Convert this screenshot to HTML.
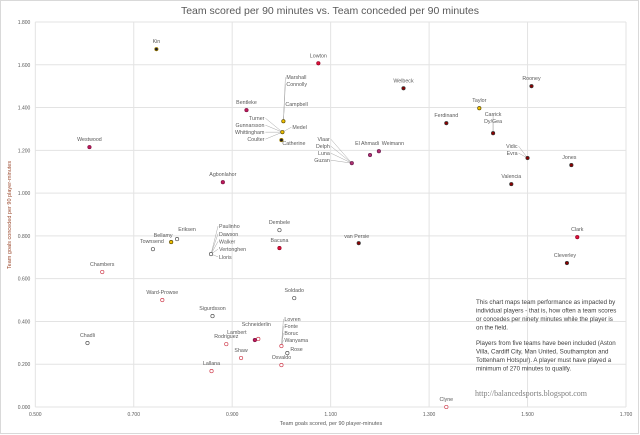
<!DOCTYPE html>
<html><head><meta charset="utf-8"><style>
html,body{margin:0;padding:0;background:#fff}
svg{display:block;font-family:"Liberation Sans",sans-serif}
</style></head><body>
<svg id="c" width="640" height="435" viewBox="0 0 640 435">
<rect x="0.5" y="0.5" width="638" height="433" fill="#fff" stroke="#d9d9d9"/>
<text x="330" y="14" font-size="10.5" fill="#595959" text-anchor="middle">Team scored per 90 minutes vs. Team conceded per 90 minutes</text>
<g id="grid"></g><g id="lines"></g><g id="pts"></g><g id="labs"></g>
<text transform="translate(11,215) rotate(-90)" font-size="5.5" fill="#9c4a2e" text-anchor="middle">Team goals conceded per 90 player-minutes</text>
<text x="331" y="425" font-size="5.5" fill="#595959" text-anchor="middle">Team goals scored, per 90 player-minutes</text>
<g font-size="6.2" fill="#404040">
<text x="476" y="304">This chart maps team performance as impacted by</text>
<text x="476" y="312.5">individual players - that is, how often a team scores</text>
<text x="476" y="321">or concedes per ninety minutes while the player is</text>
<text x="476" y="329.5">on the field.</text>
<text x="476" y="345">Players from five teams have been included (Aston</text>
<text x="476" y="353.5">Villa, Cardiff City, Man United, Southampton and</text>
<text x="476" y="362">Tottenham Hotspur).  A player must have played a</text>
<text x="476" y="370.5">minimum of 270 minutes to qualify.</text>
</g>
<text x="475" y="396" font-size="8" fill="#7f7f7f" font-family="Liberation Serif,serif">http://balancedsports.blogspot.com</text>
</svg>
<script>
var xTicks=[0.5,0.7,0.9,1.1,1.3,1.5,1.7];
var yTicks=[0,0.2,0.4,0.6,0.8,1.0,1.2,1.4,1.6,1.8];
var names=["Kin","Lowton","Marshall","Bentleke","Turner","Catherine","Westwood","Agbonlahor","Welbeck","Rooney","Taylor","Ferdinand","Carrick","Vidic","Jones","Valencia","Vlaar","El Ahmadi","Weimann","Eriksen","Bellamy","Townsend","Paulinho","Dembele","Bacuna","van Persie","Clark","Cleverley","Chambers","Ward-Prowse","Soldado","Sigurdsson","Schneiderlin","Lambert","Chadli","Rodriguez","Lovren","Rose","Shaw","Osvaldo","Lallana","Clyne"];
var xs=[0.746,1.075,1.004,0.929,1.002,1.0,0.61,0.881,1.248,1.508,1.402,1.335,1.43,1.5,1.589,1.467,1.143,1.18,1.198,0.788,0.776,0.739,0.857,0.996,0.996,1.157,1.601,1.58,0.636,0.758,1.026,0.86,0.953,0.946,0.606,0.888,1.0,1.012,0.918,1.0,0.858,1.335];
var ys=[1.673,1.607,1.336,1.388,1.285,1.248,1.215,1.051,1.49,1.5,1.397,1.327,1.28,1.164,1.131,1.042,1.14,1.178,1.196,0.785,0.771,0.738,0.715,0.827,0.743,0.766,0.794,0.673,0.631,0.5,0.509,0.425,0.318,0.313,0.299,0.294,0.285,0.252,0.229,0.196,0.168,0.0];
var teams=["K","R","C","V","C","K","V","V","M","M","C","M","M","M","M","M","P","P","P","T","C","T","T","T","R","M","R","M","S","S","T","T","S","V","T","S","S","T","S","S","S","S"];
var X0=35.3,X1=626,Y0=407,Y1=22;
function sx(v){return X0+(v-0.5)/1.2*(X1-X0);}
function sy(v){return Y0-v/1.8*(Y0-Y1);}
var NS="http://www.w3.org/2000/svg";
function mk(t,a,p){var e=document.createElementNS(NS,t);for(var k in a)e.setAttribute(k,a[k]);p.appendChild(e);return e;}
var G=document.getElementById('grid');
xTicks.forEach(function(v){
 var l=mk('line',{x1:sx(v),x2:sx(v),y1:Y1,y2:Y0,stroke:'#e3e3e3','stroke-width':1},G);
 
 
 var t=mk('text',{x:sx(v),y:Y0+9,'font-size':5,fill:'#595959','text-anchor':'middle'},G);t.textContent=v.toFixed(3);
 
 
});
yTicks.forEach(function(v){
 var l=mk('line',{x1:X0,x2:X1,y1:sy(v),y2:sy(v),stroke:'#e3e3e3','stroke-width':1},G);
 
 
 var t=mk('text',{x:X0-5,y:sy(v)+2,'font-size':5,fill:'#595959','text-anchor':'end'},G);t.textContent=v.toFixed(3);
 
 
});
var sty={C:['#f0c000','#5a4a00'],K:['#1a1a2a','#a08000'],R:['#e0103a','#900020'],V:['#c0185a','#7a1040'],P:['#b03070','#6a2050'],M:['#8b0000','#333'],T:['#fff','#555'],S:['#fff','#d04050']};
var P=document.getElementById('pts'),L=document.getElementById('labs'),LN=document.getElementById('lines');
var lay={"Kin":[0,-6,'middle'],"Lowton":[0,-6,'middle'],"Bentleke":[0,-6,'middle'],"Westwood":[0,-6,'middle'],"Agbonlahor":[0,-6,'middle'],"Welbeck":[0,-6,'middle'],"Rooney":[0,-6,'middle'],"Taylor":[0,-6,'middle'],"Ferdinand":[0,-6,'middle'],"Jones":[-2,-6,'middle'],"Valencia":[0,-6,'middle'],"El Ahmadi":[-3,-10,'middle'],"Weimann":[14,-6,'middle'],"Eriksen":[10,-8,'middle'],"Bellamy":[-8,-5,'middle'],"Townsend":[-1,-6,'middle'],"Dembele":[0,-6,'middle'],"Bacuna":[0,-6,'middle'],"van Persie":[-2,-5,'middle'],"Clark":[0,-6,'middle'],"Cleverley":[-2,-6,'middle'],"Chambers":[0,-6,'middle'],"Ward-Prowse":[0,-6,'middle'],"Soldado":[0,-6,'middle'],"Sigurdsson":[0,-6,'middle'],"Chadli":[0,-6,'middle'],"Rodriguez":[0,-6,'middle'],"Shaw":[0,-6,'middle'],"Osvaldo":[0,-6,'middle'],"Lallana":[0,-6,'middle'],"Clyne":[0,-6,'middle'],"Catherine":[1,5,'start'],"Schneiderlin":[-2,-13,'middle'],"Lambert":[-18,-6,'middle'],"Rose":[3,-2,'start']};
var groups={"Marshall":[[3,-42,'start',['Marshall','Connolly']],[2,-15,'start',['Campbell']]],"Turner":[[-18,-12,'end',['Turner','Gunnarsson','Whittingham','Coulter']],[10,-3,'start',['Medel']]],"Carrick":[[0,-17,'middle',['Carrick','Dy/Gea']]],"Vidic":[[-10,-10,'end',['Vidic','Evra']]],"Vlaar":[[-22,-22,'end',['Vlaar','Delph','Luna','Guzan']]],"Paulinho":[[8,-26,'start',['Paulinho','Dawson','Walker','Vertonghen','Lloris']]],"Lovren":[[3,-25,'start',['Lovren','Fonte','Boruc','Wanyama']]]};
function txt(x,y,s,a){var t=mk('text',{x:x,y:y,'font-size':5.3,fill:'#595959','text-anchor':a},L);t.textContent=s;
 
 return t;}
names.forEach(function(n,i){
 var x=sx(xs[i]),y=sy(ys[i]),s=sty[teams[i]];
 var c=mk('circle',{cx:x,cy:y,r:1.7,fill:s[0],stroke:s[1],'stroke-width':0.7},P);
 
 
 if(lay[n]){var o=lay[n];txt(x+o[0],y+o[1],n,o[2]);}
 if(groups[n]){groups[n].forEach(function(g){
  var lh=g[3].length>4?7.7:7;
  g[3].forEach(function(nm,k){
   var ty=y+g[1]+k*lh, tx=x+g[0];
   txt(tx,ty,nm,g[2]);
   var ex=g[2]=='end'?tx+1:(g[2]=='start'?tx-1:tx);
   var ln=mk('line',{x1:ex,y1:ty-2,x2:x,y2:y,stroke:'#a6a6a6','stroke-width':0.5},LN);
   
   
  });
 });}
});
</script>
</body></html>
